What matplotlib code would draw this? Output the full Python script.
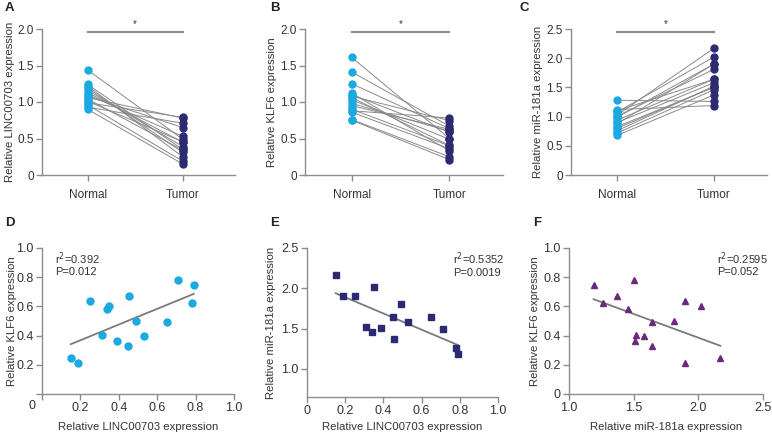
import matplotlib
matplotlib.use('Agg')
import matplotlib.pyplot as plt
import numpy as np

plt.rcParams['font.family'] = ['Liberation Sans', 'DejaVu Sans']

# per-sample tumor values (same 15 patients in every panel)
linc_tumor = [0.15, 0.19, 0.25, 0.31, 0.34, 0.35, 0.39, 0.45, 0.455, 0.49, 0.53, 0.65, 0.71, 0.78, 0.79]
klf6_tumor = [0.25, 0.21, 0.635, 0.405, 0.585, 0.60, 0.36, 0.33, 0.67, 0.50, 0.40, 0.49, 0.78, 0.625, 0.745]
mir_tumor = [2.17, 1.90, 1.90, 1.52, 1.46, 2.02, 1.51, 1.64, 1.37, 1.81, 1.58, 1.64, 1.50, 1.26, 1.19]

# matched normal tissue values
linc_normal = [0.90, 0.96, 1.22, 1.19, 1.04, 1.24, 1.16, 1.13, 1.01, 1.44, 1.10, 1.08, 0.93, 1.06, 0.99]
klf6_normal = [0.76, 0.75, 1.25, 1.06, 1.10, 0.98, 0.86, 1.12, 1.41, 1.61, 0.90, 1.03, 0.88, 0.95, 1.08]
mir_normal = [1.03, 0.99, 0.88, 0.76, 0.72, 1.08, 0.80, 0.94, 0.68, 1.01, 0.90, 1.10, 0.83, 1.28, 1.12]

groups = ['Normal', 'Tumor']
stats_d = ['r$^2$=0.392', 'P=0.012']
stats_e = ['r$^2$=0.5352', 'P=0.0019']
stats_f = ['r$^2$=0.2595', 'P=0.052']

LIGHT = '#1ba9e1'
NAVY = '#2c2b72'
PURPLE = '#6a2a7c'
SPINE = '#8c8c8c'
TEXT = '#333333'
W, H = 772, 434
LABEL_FS = 8.2


def px_axes(fig, left, right, top, bottom):
    return fig.add_axes([left / W, 1 - bottom / H, (right - left) / W, (bottom - top) / H])


def style(ax, fs):
    for s in ['top', 'right']:
        ax.spines[s].set_visible(False)
    for s in ['left', 'bottom']:
        ax.spines[s].set_color(SPINE)
        ax.spines[s].set_linewidth(1.0)
    ax.tick_params(colors=SPINE, labelcolor=TEXT, labelsize=fs, length=4, width=1.0, pad=2)


def paired(ax, normal, tumor, ylabel, ymax, yticks, ylabs):
    for n, t in zip(normal, tumor):
        ax.plot([0, 1], [n, t], color='#8a8a8a', lw=0.7, zorder=1)
    ax.plot(np.zeros(len(normal)), normal, 'o', color=LIGHT, ms=5, zorder=3)
    ax.plot(np.ones(len(tumor)), tumor, 'o', color=NAVY, ms=5, zorder=3)
    ax.set_xlim(-0.48, 1.55)
    ax.set_ylim(0, ymax)
    ax.set_xticks([0, 1])
    ax.set_xticklabels(groups)
    ax.set_yticks(yticks)
    ax.set_yticklabels(ylabs)
    ax.set_ylabel(ylabel, fontsize=LABEL_FS, color=TEXT)
    # significance bar
    ax.plot([0, 1], [0.977 * ymax, 0.977 * ymax], color='#909090', lw=1.6, clip_on=False)
    ax.text(0.5, 1.0 * ymax, '*', ha='center', va='bottom', fontsize=7, color=TEXT)
    style(ax, 8.5)
    ax.tick_params(axis='x', pad=6)


def scatter(ax, x, y, marker, color, size, stats, sx):
    ax.plot(x, y, marker, color=color, ms=size, ls='none', zorder=3)
    k, b = np.polyfit(x, y, 1)
    xs = np.array([min(x), max(x)])
    ax.plot(xs, k * xs + b, color='#7a7a7a', lw=1.3, zorder=2)
    ax.text(sx, 0.93, stats[0], transform=ax.transAxes, fontsize=8, color=TEXT, va='center')
    ax.text(sx, 0.835, stats[1], transform=ax.transAxes, fontsize=8, color=TEXT, va='center')
    style(ax, 9)


fig = plt.figure(figsize=(7.72, 4.34), dpi=100)

# top row: paired plots
axA = px_axes(fig, 42, 235, 29, 175)
paired(axA, linc_normal, linc_tumor, 'Relative LINC00703 expression', 2.0,
       [0, 0.5, 1.0, 1.5, 2.0], ['0', '0.5', '1.0', '1.5', '2.0'])
axA.yaxis.set_label_coords(-0.14, 0.5)

axB = px_axes(fig, 305, 503, 29, 175)
paired(axB, klf6_normal, klf6_tumor, 'Relative KLF6 expression', 2.0,
       [0, 0.5, 1.0, 1.5, 2.0], ['0', '0.5', '1.0', '1.5', '2.0'])
axB.yaxis.set_label_coords(-0.14, 0.5)

axC = px_axes(fig, 571, 767, 29, 175)
paired(axC, mir_normal, mir_tumor, 'Relative miR-181a expression', 2.5,
       [0, 0.5, 1.0, 1.5, 2.0, 2.5], ['0', '0.5', '1.0', '1.5', '2.0', '2.5'])
axC.yaxis.set_label_coords(-0.145, 0.5)

# bottom row: correlations
axD = px_axes(fig, 42, 234, 248, 394)
scatter(axD, linc_tumor, klf6_tumor, 'o', LIGHT, 5, stats_d, 0.068)
axD.set_xlim(0, 1.0)
axD.set_ylim(0, 1.0)
axD.set_xticks([0, 0.2, 0.4, 0.6, 0.8, 1.0])
axD.set_xticklabels(['', '0.2', '0.4', '0.6', '0.8', '1.0'])
axD.set_yticks([0, 0.2, 0.4, 0.6, 0.8, 1.0])
axD.set_yticklabels(['', '0.2', '0.4', '0.6', '0.8', '1.0'])
axD.text(-0.05, -0.04, '0', transform=axD.transAxes, ha='center', va='top', fontsize=9, color=TEXT)
axD.set_xlabel('Relative LINC00703 expression', fontsize=LABEL_FS, color=TEXT)
axD.set_ylabel('Relative KLF6 expression', fontsize=LABEL_FS, color=TEXT)
axD.xaxis.set_label_coords(0.5, -0.19)
axD.yaxis.set_label_coords(-0.13, 0.5)

axE = px_axes(fig, 307, 498, 248, 397)
scatter(axE, linc_tumor, mir_tumor, 's', NAVY, 5, stats_e, 0.765)
axE.set_xlim(0, 1.0)
axE.set_ylim(0.65, 2.5)
axE.set_xticks([0, 0.2, 0.4, 0.6, 0.8, 1.0])
axE.set_xticklabels(['0', '0.2', '0.4', '0.6', '0.8', '1.0'])
axE.set_yticks([1.0, 1.5, 2.0, 2.5])
axE.set_xlabel('Relative LINC00703 expression', fontsize=LABEL_FS, color=TEXT)
axE.set_ylabel('Relative miR-181a expression', fontsize=LABEL_FS, color=TEXT)
axE.xaxis.set_label_coords(0.5, -0.17)
axE.yaxis.set_label_coords(-0.164, 0.5)

axF = px_axes(fig, 569, 763, 248, 394)
scatter(axF, mir_tumor, klf6_tumor, '^', PURPLE, 5, stats_f, 0.763)
axF.set_xlim(1.0, 2.5)
axF.set_ylim(0, 1.0)
axF.set_xticks([1.0, 1.5, 2.0, 2.5])
axF.set_yticks([0, 0.2, 0.4, 0.6, 0.8, 1.0])
axF.set_yticklabels(['0', '0.2', '0.4', '0.6', '0.8', '1.0'])
axF.set_xlabel('Relative miR-181a expression', fontsize=LABEL_FS, color=TEXT)
axF.set_ylabel('Relative KLF6 expression', fontsize=LABEL_FS, color=TEXT)
axF.xaxis.set_label_coords(0.5, -0.19)
axF.yaxis.set_label_coords(-0.15, 0.5)

# panel letters
for lab, x, y in [('A', 5, 8), ('B', 270, 8), ('C', 519, 8), ('D', 5, 223), ('E', 270, 223), ('F', 533, 223)]:
    fig.text(x / W, 1 - y / H, lab, fontsize=9.5, fontweight='bold', color='#222222', va='center')

fig.savefig('out.png', dpi=100)
